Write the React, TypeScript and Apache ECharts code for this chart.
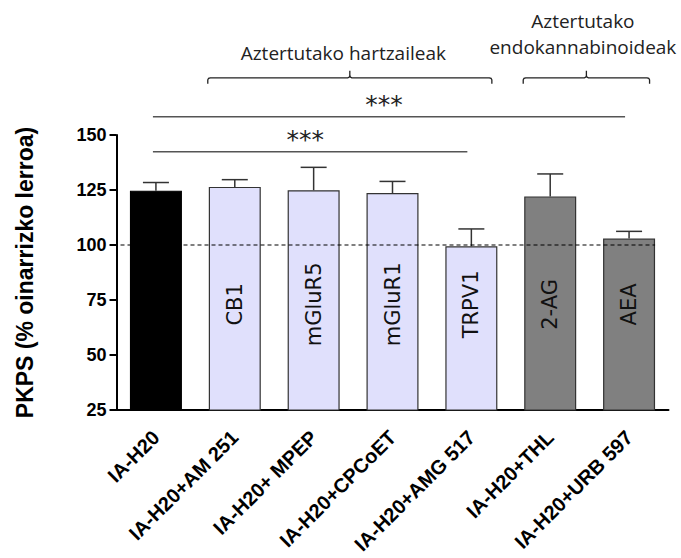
import React, { useEffect, useRef } from 'react';
import * as echarts from 'echarts';

const categories = [
  'IA-H20',
  'IA-H20+AM 251',
  'IA-H20+ MPEP',
  'IA-H20+CPCoET',
  'IA-H20+AMG 517',
  'IA-H20+THL',
  'IA-H20+URB 597',
];
const barLabels = ['', 'CB1', 'mGluR5', 'mGluR1', 'TRPV1', '2-AG', 'AEA'];
const means = [124.7, 126.4, 124.9, 123.6, 99.4, 122.1, 102.9];
const errors = [3.7, 3.3, 10.4, 5.3, 7.9, 10.2, 3.3];
const barGroup = ['ctrl', 'rec', 'rec', 'rec', 'rec', 'endo', 'endo'];
const yMin = 25;
const yMax = 150;
const yInterval = 25;
const baselineValue = 100;
const yAxisName = 'PKPS (% oinarrizko lerroa)';

const sigFrom = [0, 0];
const sigTo = [6, 4];
const sigLevel = [158.3, 142.4];
const sigText = ['***', '***'];

const groupFrom = [1, 5];
const groupTo = [4, 6];
const groupLines = [['Aztertutako hartzaileak'], ['Aztertutako', 'endokannabinoideak']];
const bracketLevel = 176;

const colorMap: Record<string, string> = {
  ctrl: '#000000',
  rec: '#e0e0fc',
  endo: '#808080',
};
const borderMap: Record<string, string> = {
  ctrl: '#000000',
  rec: '#333333',
  endo: '#333333',
};

const BAR_W = 52;
const labelValue = 73;

export default function App() {
  const ref = useRef<HTMLDivElement>(null);
  useEffect(() => {
    document.body.style.margin = '0';
    if (!ref.current) return;
    const chart = echarts.init(ref.current, undefined, { renderer: 'svg' });

    const option: any = {
      animation: false,
      backgroundColor: '#ffffff',
      grid: {
        left: 116.5,
        right: 12.5,
        top: 135,
        bottom: 148,
        containLabel: false,
        outerBoundsMode: 'none',
      },
      xAxis: {
        type: 'category',
        data: categories,
        axisLine: { lineStyle: { color: '#000', width: 2 } },
        axisTick: { alignWithLabel: true, length: 8, lineStyle: { color: '#000', width: 2 } },
        axisLabel: {
          interval: 0,
          rotate: 45,
          margin: 24,
          color: '#000',
          fontFamily: 'Liberation Sans',
          fontWeight: 'bold',
          fontSize: 20,
        },
        splitLine: { show: false },
      },
      yAxis: {
        type: 'value',
        min: yMin,
        max: yMax,
        interval: yInterval,
        name: yAxisName,
        nameLocation: 'middle',
        nameGap: 80,
        nameTextStyle: {
          color: '#000',
          fontFamily: 'Liberation Sans',
          fontWeight: 'bold',
          fontSize: 23,
        },
        axisLine: { show: true, lineStyle: { color: '#000', width: 2 } },
        axisTick: { show: true, length: 7, lineStyle: { color: '#000', width: 2 } },
        axisLabel: {
          margin: 10,
          color: '#000',
          fontFamily: 'Liberation Sans',
          fontWeight: 'bold',
          fontSize: 18,
        },
        splitLine: { show: false },
      },
      series: [
        {
          type: 'bar',
          barWidth: BAR_W,
          data: means.map((v, i) => ({
            value: v,
            itemStyle: {
              color: colorMap[barGroup[i]],
              borderColor: borderMap[barGroup[i]],
              borderWidth: 1.2,
            },
          })),
          z: 2,
        },
        {
          type: 'custom',
          name: 'errors',
          clip: false,
          z: 3,
          data: means.map((v, i) => [i, v, v + errors[i]]),
          renderItem: (params: any, api: any) => {
            const b = api.coord([api.value(0), api.value(1)]);
            const t = api.coord([api.value(0), api.value(2)]);
            const half = 13;
            const col = '#333';
            return {
              type: 'group',
              children: [
                {
                  type: 'line',
                  shape: { x1: b[0], y1: b[1], x2: t[0], y2: t[1] },
                  style: { stroke: col, lineWidth: 1.5 },
                },
                {
                  type: 'line',
                  shape: { x1: t[0] - half, y1: t[1], x2: t[0] + half, y2: t[1] },
                  style: { stroke: col, lineWidth: 1.5 },
                },
              ],
            };
          },
        },
        {
          type: 'custom',
          name: 'barLabels',
          clip: false,
          z: 4,
          data: barLabels.map((s, i) => [i, labelValue]),
          renderItem: (params: any, api: any) => {
            const p = api.coord([api.value(0), api.value(1)]);
            return {
              type: 'text',
              x: p[0],
              y: p[1],
              rotation: Math.PI / 2,
              style: {
                text: barLabels[params.dataIndex],
                fill: '#111',
                fontFamily: 'DejaVu Sans',
                fontSize: 21,
                align: 'center',
                verticalAlign: 'middle',
              },
            };
          },
        },
        {
          type: 'custom',
          name: 'baseline',
          clip: false,
          z: 5,
          data: [[0, baselineValue]],
          renderItem: (params: any, api: any) => {
            const l = api.coord([0, api.value(1)]);
            const r = api.coord([categories.length - 1, api.value(1)]);
            const band = api.size([1, 0])[0];
            return {
              type: 'line',
              shape: { x1: l[0] - band / 2 + 4, y1: l[1], x2: r[0] + BAR_W / 2, y2: r[1] },
              style: { stroke: '#000', lineWidth: 1.2, lineDash: [4, 3] },
            };
          },
        },
        {
          type: 'custom',
          name: 'significance',
          clip: false,
          z: 5,
          data: sigFrom.map((f, i) => [f, sigTo[i], sigLevel[i]]),
          renderItem: (params: any, api: any) => {
            const a = api.coord([api.value(0), api.value(2)]);
            const b = api.coord([api.value(1), api.value(2)]);
            const x1 = a[0] - 3;
            const x2 = b[0] - 4;
            return {
              type: 'group',
              children: [
                {
                  type: 'line',
                  shape: { x1, y1: a[1], x2, y2: a[1] },
                  style: { stroke: '#555', lineWidth: 1.6 },
                },
                {
                  type: 'text',
                  x: (x1 + x2) / 2 - 5,
                  y: a[1] - 12,
                  style: {
                    text: sigText[params.dataIndex],
                    fill: '#222',
                    fontFamily: 'DejaVu Sans',
                    fontSize: 25,
                    align: 'center',
                    verticalAlign: 'middle',
                  },
                },
              ],
            };
          },
        },
        {
          type: 'custom',
          name: 'groups',
          clip: false,
          z: 5,
          data: groupFrom.map((f, i) => [f, groupTo[i], bracketLevel]),
          renderItem: (params: any, api: any) => {
            const a = api.coord([api.value(0), api.value(2)]);
            const b = api.coord([api.value(1), api.value(2)]);
            const x1 = a[0] - 27;
            const x2 = b[0] + 20.5;
            const y = a[1];
            const xm = (x1 + x2) / 2;
            const stroke = { stroke: '#222', lineWidth: 1.3, fill: 'none' };
            const lines = groupLines[params.dataIndex];
            const children: any[] = [
              {
                type: 'polyline',
                shape: {
                  points: [
                    [x1, y + 6],
                    [x1, y + 2],
                    [x1 + 0.8, y + 0.6],
                    [x1 + 2.5, y],
                    [xm - 2, y],
                    [xm - 0.5, y - 0.8],
                    [xm, y - 2],
                    [xm, y - 7],
                  ],
                },
                style: stroke,
              },
              {
                type: 'polyline',
                shape: {
                  points: [
                    [xm, y - 2],
                    [xm + 0.5, y - 0.8],
                    [xm + 2, y],
                    [x2 - 2.5, y],
                    [x2 - 0.8, y + 0.6],
                    [x2, y + 2],
                    [x2, y + 6],
                  ],
                },
                style: stroke,
              },
            ];
            const n = lines.length;
            lines.forEach((t, k) => {
              children.push({
                type: 'text',
                x: xm - (n === 1 ? 6.5 : 3.5),
                y: n === 1 ? y - 25 : y - 31 - (n - 1 - k) * 26,
                style: {
                  text: t,
                  fill: '#222',
                  fontFamily: 'Open Sans',
                  fontSize: 19,
                  align: 'center',
                  verticalAlign: 'middle',
                },
              });
            });
            return { type: 'group', children };
          },
        },
      ],
    };
    chart.setOption(option);
    return () => {
      chart.dispose();
    };
  }, []);
  return <div ref={ref} style={{ width: 681, height: 558 }} />;
}
